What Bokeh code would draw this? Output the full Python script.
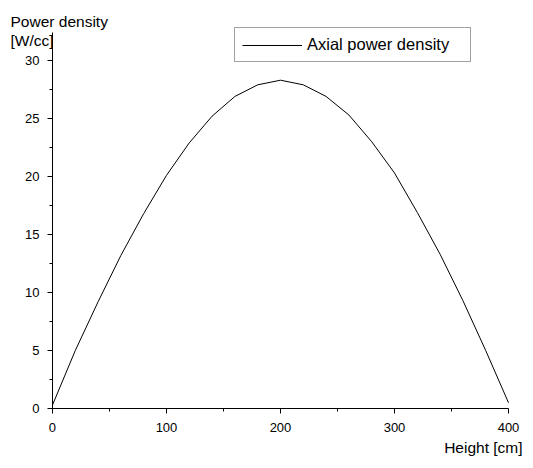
from bokeh.plotting import figure
from bokeh.models import Range1d, FixedTicker, Label, Legend, LegendItem
from bokeh.embed import file_html
from bokeh.resources import INLINE

height_cm = [0, 20, 40, 60, 80, 100, 120, 140, 160, 180, 200,
             220, 240, 260, 280, 300, 320, 340, 360, 380, 400]
power_density = [0.3, 5.0, 9.2, 13.2, 16.8, 20.1, 22.9, 25.2, 26.9, 27.9, 28.3,
                 27.9, 26.9, 25.3, 23.0, 20.3, 16.9, 13.3, 9.3, 5.0, 0.5]

x_ticks = [0, 100, 200, 300, 400]
x_minor = [50, 150, 250, 350]
y_ticks = [0, 5, 10, 15, 20, 25, 30]
y_minor = [2.5, 7.5, 12.5, 17.5, 22.5, 27.5]

FONT = "Liberation Sans"

# frame covers the whole canvas; axes are pinned at x=0 / y=0 with bounds
p = figure(width=525, height=460, output_backend="svg", toolbar_location=None,
           x_range=Range1d(-45.6, 414.9), y_range=Range1d(-4.48, 35.17),
           min_border=0)
p.outline_line_color = None
p.grid.visible = False
p.background_fill_color = "white"
p.border_fill_color = "white"

r = p.line(height_cm, power_density, line_color="black", line_width=1)

xa = p.xaxis[0]
ya = p.yaxis[0]
xa.fixed_location = 0
ya.fixed_location = 0
xa.bounds = (0, 400)
ya.bounds = (0, 32.4)

for ax, ticks, minor in ((xa, x_ticks, x_minor), (ya, y_ticks, y_minor)):
    ax.ticker = FixedTicker(ticks=ticks, minor_ticks=minor)
    ax.axis_line_color = "black"
    ax.axis_line_width = 1
    ax.major_tick_line_color = "black"
    ax.minor_tick_line_color = "black"
    ax.major_tick_out = 5
    ax.major_tick_in = 0
    ax.minor_tick_out = 3
    ax.minor_tick_in = 0
    ax.major_label_text_font = FONT
    ax.major_label_text_font_size = "13px"
    ax.major_label_text_color = "black"
xa.major_label_standoff = 9
ya.major_label_standoff = 8

legend = Legend(items=[LegendItem(label="Axial power density", renderers=[r])],
                location=(234, 398), orientation="vertical",
                padding=7, spacing=0, margin=0,
                glyph_width=60, glyph_height=18, label_height=18, label_width=156,
                label_standoff=5,
                label_text_font=FONT, label_text_font_size="16.5px", label_text_color="black",
                border_line_color="#444444", border_line_width=1,
                background_fill_alpha=1.0)
p.add_layout(legend, "center")

p.add_layout(Label(x=-36.8, y=33.35, text="Power density", text_font=FONT,
                   text_font_size="15.5px", text_color="black", text_baseline="alphabetic"))
p.add_layout(Label(x=-36.8, y=31.7, text="[W/cc]", text_font=FONT,
                   text_font_size="15.5px", text_color="black", text_baseline="alphabetic"))
p.add_layout(Label(x=412.3, y=-3.35, text="Height [cm]", text_font=FONT,
                   text_font_size="15.5px", text_color="black", text_align="right",
                   text_baseline="alphabetic"))

open("out.html", "w").write(file_html(p, INLINE))
